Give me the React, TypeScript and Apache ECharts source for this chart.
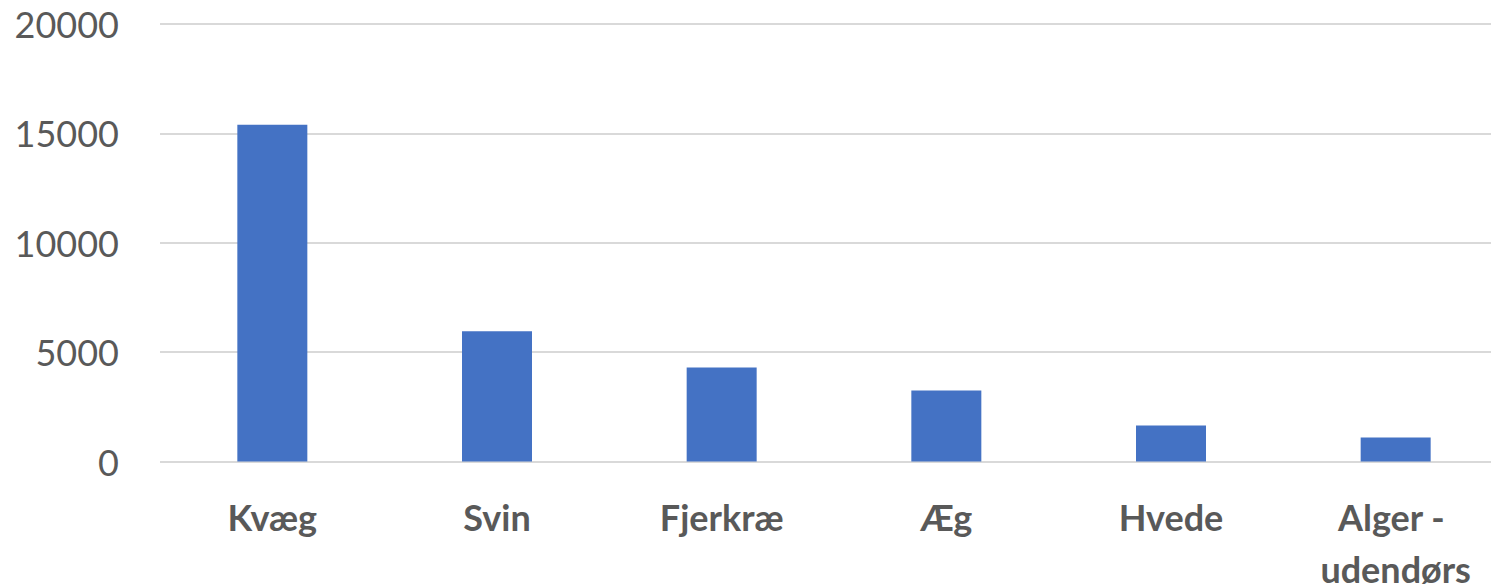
import React, { useEffect, useRef } from "react";
import * as echarts from "echarts";

const categories = ["Kvæg", "Svin", "Fjerkræ", "Æg", "Hvede", "Alger - udendørs"];
const values = [15400, 5950, 4300, 3250, 1650, 1100];
const yMin = 0;
const yMax = 20000;
const yInterval = 5000;

export default function App() {
  const ref = useRef<HTMLDivElement>(null);
  useEffect(() => {
    document.body.style.margin = "0";
    const chart = echarts.init(ref.current!, null, { renderer: "svg" });
    chart.setOption({
      animation: false,
      grid: {
        left: 160,
        top: 24,
        width: 1348,
        height: 437.5,
        containLabel: false,
        outerBoundsMode: "none",
      },
      xAxis: {
        type: "category",
        data: categories,
        axisLine: { show: false },
        axisTick: { show: false },
        axisLabel: {
          interval: 0,
          margin: 29,
          fontFamily: "Lato",
          fontWeight: "bold",
          fontSize: 36,
          color: "#595959",
          width: 200,
          overflow: "break",
          lineHeight: 52,
        },
      },
      yAxis: {
        type: "value",
        min: yMin,
        max: yMax,
        interval: yInterval,
        axisLine: { show: false },
        axisTick: { show: false },
        axisLabel: {
          margin: 41,
          fontFamily: "Lato",
          fontSize: 36,
          color: "#595959",
          formatter: (v: number) => String(v),
        },
        splitLine: { lineStyle: { color: "#d9d9d9", width: 2 } },
      },
      series: [
        {
          type: "bar",
          data: values,
          barWidth: 70,
          itemStyle: { color: "#4472C4" },
        },
      ],
    });
    return () => chart.dispose();
  }, []);
  return <div ref={ref} style={{ width: 1491, height: 587 }} />;
}
